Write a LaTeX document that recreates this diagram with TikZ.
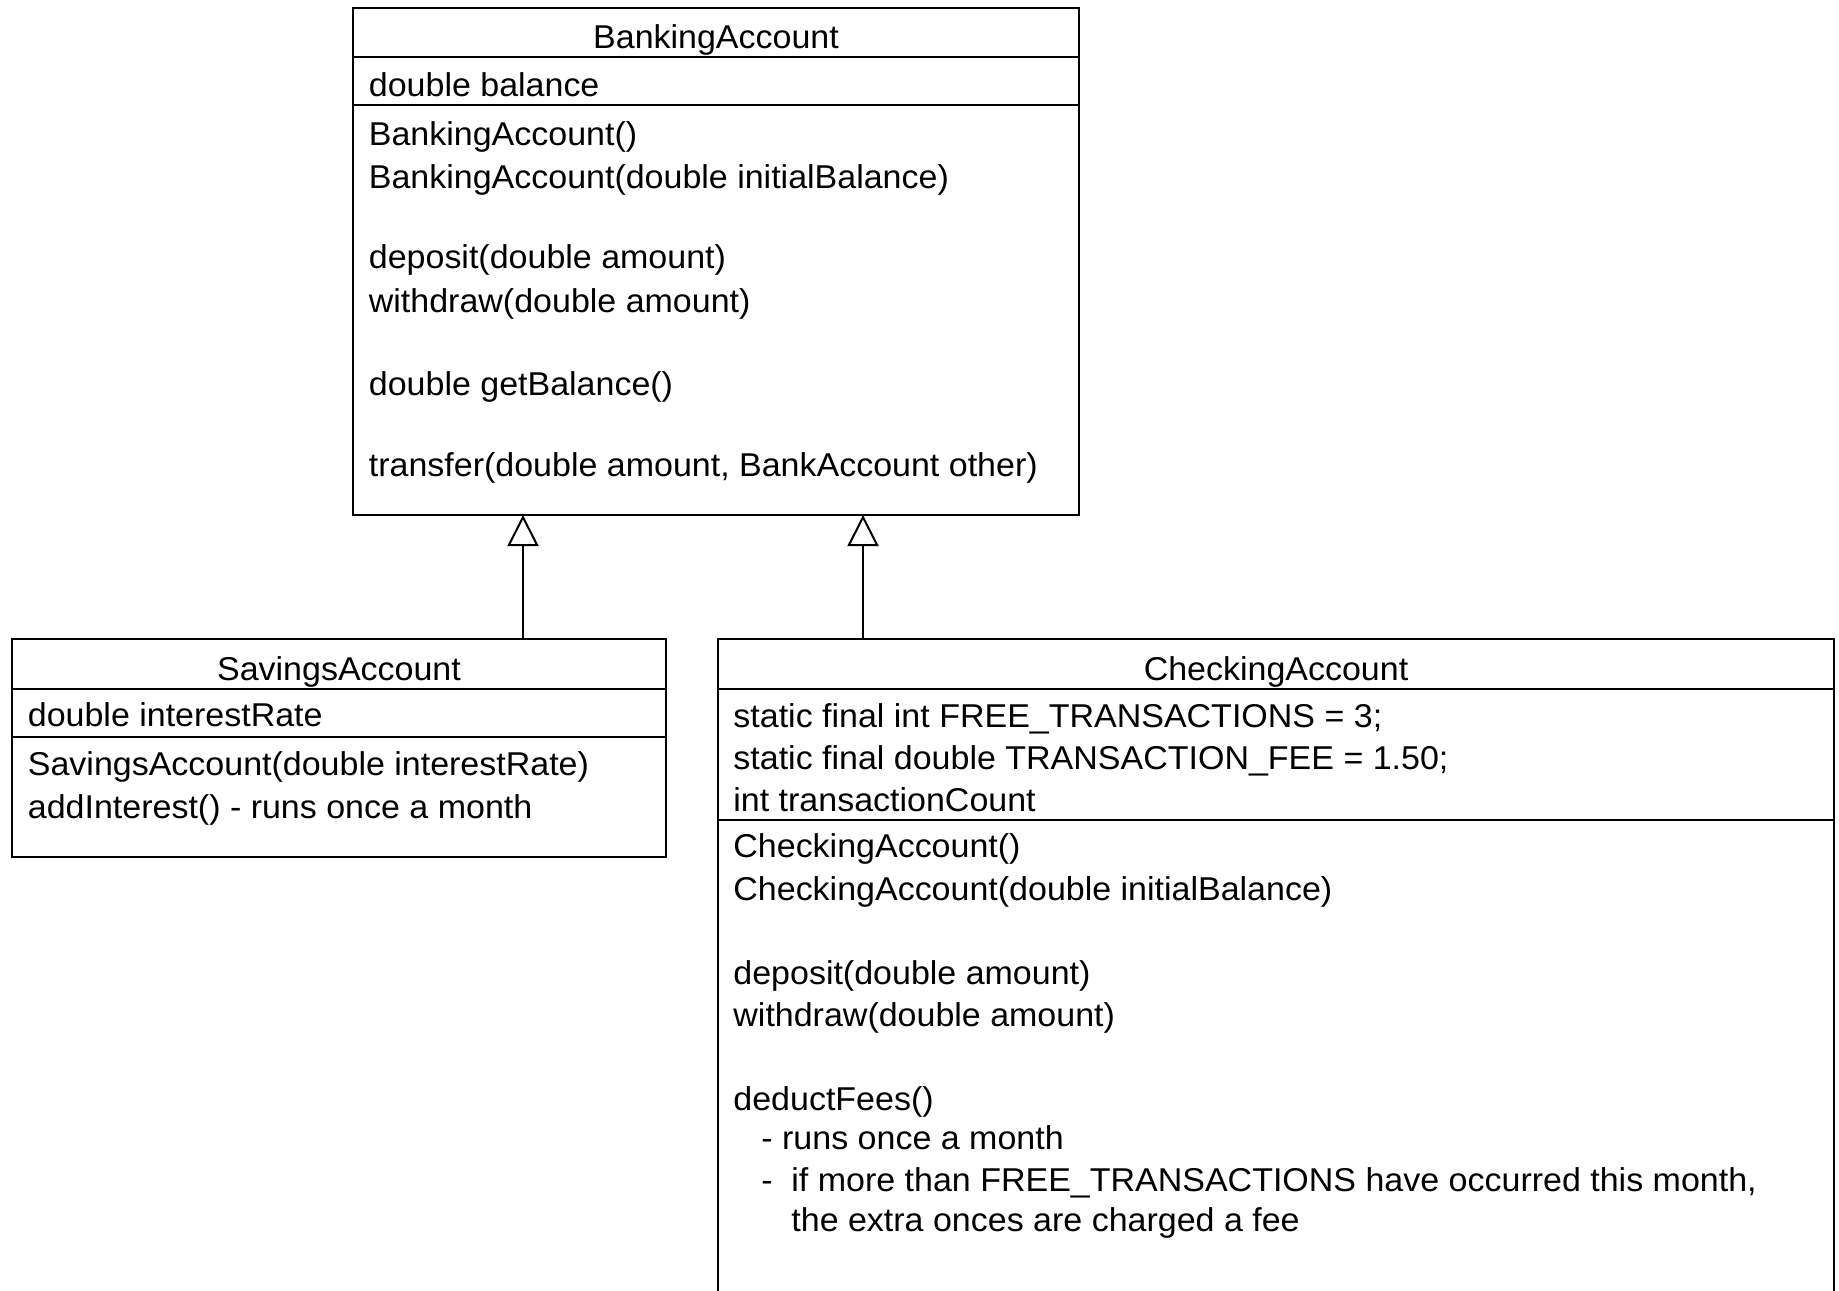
\documentclass[tikz,border=0pt]{standalone}
\usepackage{fontspec}
\setmainfont{Liberation Sans}[FakeStretch=1.03]
\usetikzlibrary{arrows.meta}
\begin{document}
\begin{tikzpicture}[x=0.5pt,y=-0.5pt,
  box/.style={draw=black, line width=1pt, anchor=north west, inner sep=0pt, outer sep=0pt},
  lbl/.style={anchor=base west, inner sep=0pt, font=\fontsize{16.5pt}{19pt}\selectfont},
  ttl/.style={anchor=base, inner sep=0pt, font=\fontsize{16.5pt}{19pt}\selectfont},
  sep/.style={line width=1pt},
  inh/.style={line width=1pt, -{Triangle[open, length=15.5pt, width=15.5pt]}}]
\useasboundingbox (0,0) rectangle (1839,1290);
\clip (0,0) rectangle (1839,1290);

% class boxes
\node[box, minimum width=363pt, minimum height=253.5pt] (BA) at (353,8) {};
\node[box, minimum width=327pt, minimum height=108.85pt] (SA) at (12,639) {};
\node[box, minimum width=558pt, minimum height=345pt] (CA) at (718,639) {};

% compartment separators
\draw[sep] (353,57) -- (1079,57);
\draw[sep] (353,105) -- (1079,105);
\draw[sep] (12,688.5) -- (666,688.5);
\draw[sep] (12,737) -- (666,737);
\draw[sep] (718,689) -- (1834,689);
\draw[sep] (718,820) -- (1834,820);

% BankingAccount
\node[ttl] (ba0) at (716,48) {BankingAccount};
\node[lbl] (ba1) at (368.5,96) {double balance};
\node[lbl] (ba2) at (368.5,145.4) {BankingAccount()};
\node[lbl] (ba3) at (368.5,188.8) {BankingAccount(double initialBalance)};
\node[lbl] (ba4) at (368.5,268.5) {deposit(double amount)};
\node[lbl] (ba5) at (368.5,312) {withdraw(double amount)};
\node[lbl] (ba6) at (368.5,395.2) {double getBalance()};
\node[lbl] (ba7) at (368.5,476.1) {transfer(double amount, BankAccount other)};

% SavingsAccount
\node[ttl] (sa0) at (339,680.2) {SavingsAccount};
\node[lbl] (sa1) at (27.5,726) {double interestRate};
\node[lbl] (sa2) at (27.5,775.2) {SavingsAccount(double interestRate)};
\node[lbl] (sa3) at (27.5,818.6) {addInterest() - runs once a month};

% CheckingAccount
\node[ttl] (ca0) at (1276,680.2) {CheckingAccount};
\node[lbl] (ca1) at (733,727.1) {static final int FREE\_TRANSACTIONS = 3;};
\node[lbl] (ca2) at (733,769.3) {static final double TRANSACTION\_FEE = 1.50;};
\node[lbl] (ca3) at (733,811.5) {int transactionCount};
\node[lbl] (ca4) at (733,857.3) {CheckingAccount()};
\node[lbl] (ca5) at (733,900.7) {CheckingAccount(double initialBalance)};
\node[lbl] (ca6) at (733,984) {deposit(double amount)};
\node[lbl] (ca7) at (733,1026.2) {withdraw(double amount)};
\node[lbl] (ca8) at (733,1110.6) {deductFees()};
\node[lbl] (ca9) at (761,1149.3) {- runs once a month};
\node[lbl] (ca10) at (761,1191.5) {-};
\node[lbl] (ca11) at (791,1191.5) {if more than FREE\_TRANSACTIONS have occurred this month,};
\node[lbl] (ca12) at (791,1231.4) {the extra onces are charged a fee};

% inheritance connectors
\coordinate (x1) at (523,0);
\coordinate (x2) at (863,0);
\draw[inh] (SA.north -| x1) -- (BA.south -| x1);
\draw[inh] (CA.north -| x2) -- (BA.south -| x2);
\end{tikzpicture}
\end{document}
